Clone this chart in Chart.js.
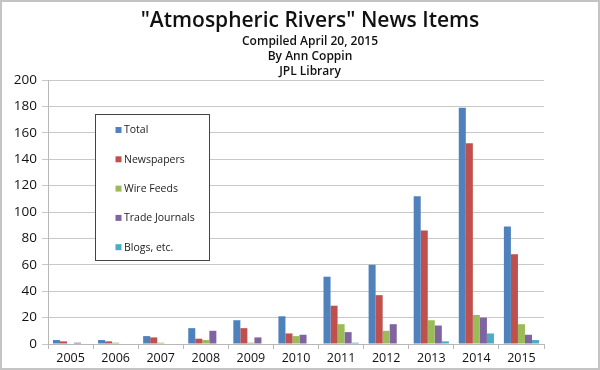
<!DOCTYPE html>
<html>
<head>
<meta charset="utf-8">
<script src="https://cdn.jsdelivr.net/npm/chart.js@4"></script>
<style>
    body { margin: 0; background: #fff; }
    #wrap { width: 600px; height: 370px; position: relative; }
</style>
</head>
<body>
<div id="wrap"><canvas id="myBarChart"></canvas></div>
<script>
// Data
var years = ['2005', '2006', '2007', '2008', '2009', '2010', '2011', '2012', '2013', '2014', '2015'];
var total = [3, 3, 6, 12, 18, 21, 51, 60, 112, 179, 89];
var newspapers = [2, 2, 5, 4, 12, 8, 29, 37, 86, 152, 68];
var wireFeeds = [0, 1, 1, 3, 1, 6, 15, 10, 18, 22, 15];
var tradeJournals = [1, 0, 0, 10, 5, 7, 9, 15, 14, 20, 7];
var blogs = [0, 0, 0, 0, 0, 0, 1, 0, 2, 8, 3];
var yTicks = [0, 20, 40, 60, 80, 100, 120, 140, 160, 180, 200];
var titleText = '"Atmospheric Rivers" News Items';
var subtitleLines = ['Compiled April 20, 2015', 'By Ann Coppin', 'JPL Library'];

var fontFamily = '"Open Sans", "Liberation Sans", sans-serif';

// Frame, titles (centred on the page, not the plot) and the boxed legend
var framePlugin = {
    id: 'frame',
    afterDraw: function (chart) {
        var ctx = chart.ctx;
        ctx.save();
        ctx.strokeStyle = '#c4c4c4';
        ctx.lineWidth = 2;
        ctx.strokeRect(1, 1, chart.width - 2, chart.height - 2);

        // titles
        ctx.fillStyle = '#111';
        ctx.textAlign = 'center';
        ctx.textBaseline = 'middle';
        ctx.font = '600 21px ' + fontFamily;
        ctx.fillText(titleText, 310, 21);
        ctx.font = '600 12px ' + fontFamily;
        subtitleLines.forEach(function (line, i) {
            ctx.fillText(line, 310, 42 + i * 15);
        });

        // legend box
        var bx = 95.5, by = 114.5, bw = 114, bh = 146;
        ctx.fillStyle = '#fff';
        ctx.fillRect(bx, by, bw, bh);
        ctx.strokeStyle = '#444';
        ctx.lineWidth = 1;
        ctx.strokeRect(bx, by, bw, bh);
        ctx.textAlign = 'left';
        ctx.font = '10.5px ' + fontFamily;
        chart.data.datasets.forEach(function (ds, i) {
            var y = by + 15.5 + i * 29.3;
            ctx.fillStyle = ds.backgroundColor;
            ctx.fillRect(bx + 20, y - 3, 6, 6);
            ctx.fillStyle = '#222';
            ctx.fillText(ds.label, bx + 28.5, y + 0.5);
        });
        ctx.restore();
    }
};

var ctxBar = document.getElementById('myBarChart').getContext('2d');
new Chart(ctxBar, {
    type: 'bar',
    data: {
        labels: years,
        datasets: [
            { label: 'Total', data: total, backgroundColor: '#4F81BD' },
            { label: 'Newspapers', data: newspapers, backgroundColor: '#C0504D' },
            { label: 'Wire Feeds', data: wireFeeds, backgroundColor: '#9BBB59' },
            { label: 'Trade Journals', data: tradeJournals, backgroundColor: '#8064A2' },
            { label: 'Blogs, etc.', data: blogs, backgroundColor: '#4BACC6' }
        ]
    },
    options: {
        responsive: true,
        maintainAspectRatio: false,
        animation: false,
        datasets: {
            bar: { categoryPercentage: 0.78, barPercentage: 1.0 }
        },
        layout: { padding: { left: 2, right: 56, bottom: 2, top: 80 } },
        plugins: {
            legend: { display: false },
            tooltip: { enabled: false }
        },
        scales: {
            x: {
                grid: {
                    display: true,
                    drawOnChartArea: false,
                    offset: true,
                    tickLength: 5,
                    color: '#b8b8b8'
                },
                border: { color: '#b8b8b8' },
                ticks: {
                    color: '#111',
                    font: { family: fontFamily, size: 12.5 },
                    padding: 2,
                    maxRotation: 0
                }
            },
            y: {
                min: 0,
                max: 200,
                afterBuildTicks: function (axis) {
                    axis.ticks = yTicks.map(function (v) { return { value: v }; });
                },
                afterFit: function (axis) { axis.width = 46; },
                grid: { color: '#c8c8c8', tickLength: 6 },
                border: { color: '#b8b8b8' },
                ticks: {
                    color: '#111',
                    font: { family: fontFamily, size: 13.5 },
                    padding: 5
                }
            }
        }
    },
    plugins: [framePlugin]
});
</script>
</body>
</html>
